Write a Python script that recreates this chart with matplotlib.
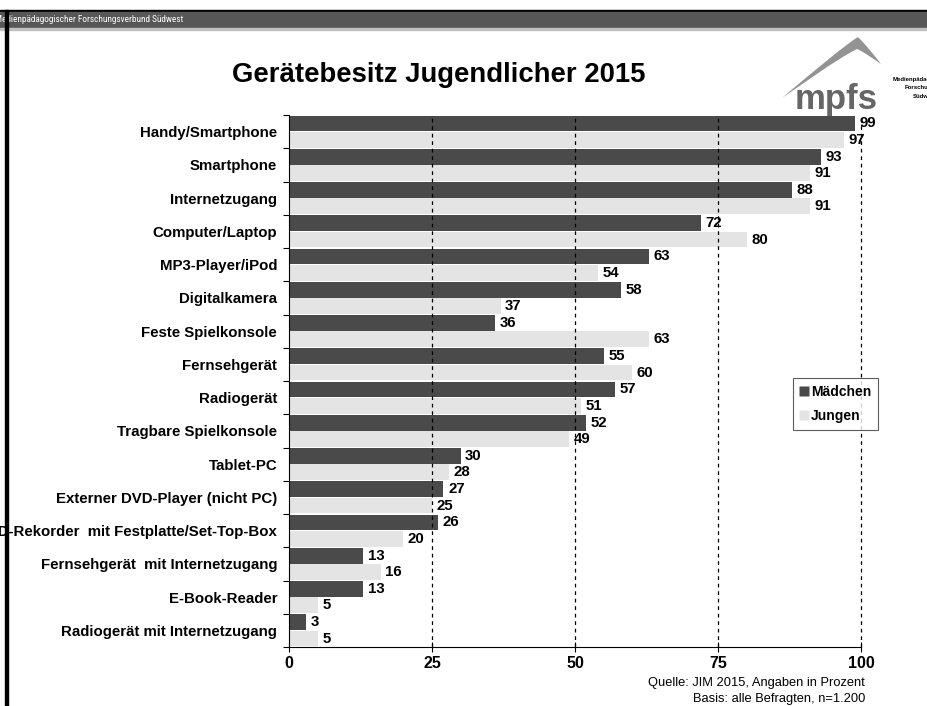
import matplotlib
matplotlib.use("Agg")
import matplotlib.pyplot as plt
import numpy as np
from matplotlib.patches import Rectangle, PathPatch
from matplotlib.path import Path
from matplotlib.lines import Line2D
from matplotlib import font_manager

plt.rcParams['font.family'] = ['Liberation Sans', 'DejaVu Sans']

categories = ["Handy/Smartphone", "Smartphone", "Internetzugang", "Computer/Laptop",
              "MP3-Player/iPod", "Digitalkamera", "Feste Spielkonsole", "Fernsehgerät",
              "Radiogerät", "Tragbare Spielkonsole", "Tablet-PC",
              "Externer DVD-Player (nicht PC)", "DVD-Rekorder  mit Festplatte/Set-Top-Box",
              "Fernsehgerät  mit Internetzugang", "E-Book-Reader",
              "Radiogerät mit Internetzugang"]
maedchen = [99, 93, 88, 72, 63, 58, 36, 55, 57, 52, 30, 27, 26, 13, 13, 3]
jungen = [97, 91, 91, 80, 54, 37, 63, 60, 51, 49, 28, 25, 20, 16, 5, 5]
xticks = [0, 25, 50, 75, 100]

W, H = 927, 706
fig = plt.figure(figsize=(W / 100, H / 100), dpi=100)

def fx(px):
    return px / W

def fy(py):
    return 1 - py / H

# header
fig.patches.append(Rectangle((0, fy(12)), 1, fy(10) - fy(12), transform=fig.transFigure,
                             color='black', zorder=0))
fig.patches.append(Rectangle((0, fy(28)), 1, fy(12) - fy(28), transform=fig.transFigure,
                             color='#575757', zorder=0))
fig.patches.append(Rectangle((0, fy(30)), 1, fy(28) - fy(30), transform=fig.transFigure,
                             color='#c0c0c0', zorder=0))

# condensed/narrow face for the header line, if available
names = {f.name for f in font_manager.fontManager.ttflist}
narrow = None
for cand in ['Liberation Sans Narrow', 'DejaVu Sans Condensed', 'Roboto Condensed',
             'Open Sans Condensed']:
    if cand in names:
        narrow = cand
        break
if narrow is None:
    for f in font_manager.fontManager.ttflist:
        if 'ondensed' in f.fname or 'Narrow' in f.fname:
            narrow = f.name
            break
if narrow is not None:
    hdr_kw = dict(family=[narrow, 'Liberation Sans'], fontsize=6.7, fontstretch='condensed')
    hdr_x = -5
else:
    hdr_kw = dict(family=['Liberation Sans'], fontsize=5.5)
    hdr_x = -4
fig.text(fx(hdr_x), fy(20), "Medienpädagogischer Forschungsverbund Südwest", color='white',
         va='center', ha='left', **hdr_kw)
# left black line
fig.patches.append(Rectangle((fx(5), 0), fx(3), fy(10), transform=fig.transFigure,
                             color='black', zorder=5))

# title
fig.text(fx(439), fy(75), "Gerätebesitz Jugendlicher 2015", fontsize=19.8,
         fontweight='bold', ha='center', va='center')

# logo arch
verts = [(fx(782), fy(98)),
         (fx(815), fy(70)), (fx(845), fy(45)), (fx(858), fy(37)),
         (fx(866), fy(45)), (fx(874), fy(55)), (fx(881), fy(64)),
         (fx(872), fy(58)), (fx(864), fy(52)), (fx(857), fy(49)),
         (fx(835), fy(60)), (fx(800), fy(86)), (fx(782), fy(98))]
codes = [Path.MOVETO] + [Path.CURVE4] * 12
fig.patches.append(PathPatch(Path(verts, codes), transform=fig.transFigure,
                             facecolor='#939393', edgecolor='none', zorder=1))
fig.text(fx(836), fy(99), "mpfs", fontsize=25, fontweight='bold', color='#666666',
         ha='center', va='center', zorder=2)
fig.text(fx(893), fy(80), "Medienpädagogischer", fontsize=4.3, fontweight='bold', ha='left', va='center')
fig.text(fx(905), fy(88), "Forschungsverbund", fontsize=4.3, fontweight='bold', ha='left', va='center')
fig.text(fx(913), fy(96), "Südwest", fontsize=4.3, fontweight='bold', ha='left', va='center')

# axes
ax = fig.add_axes([fx(289), fy(647), fx(861) - fx(289), fy(115) - fy(647)])
n = len(categories)
y = np.arange(n)
bh = 0.47
dark = '#4a4a4a'
light = '#e4e4e4'
ax.barh(y - 0.245, maedchen, height=bh, color=dark, zorder=2, label='Mädchen')
ax.barh(y + 0.245, jungen, height=bh, color=light, zorder=2, label='Jungen')
for i in range(n):
    ax.text(maedchen[i] + 0.8, y[i] - 0.245, str(maedchen[i]), fontsize=10.8,
            fontweight='bold', va='center', ha='left', zorder=4, clip_on=False)
    ax.text(jungen[i] + 0.8, y[i] + 0.245, str(jungen[i]), fontsize=10.8,
            fontweight='bold', va='center', ha='left', zorder=4, clip_on=False)

ax.set_xlim(0, 100)
ax.set_ylim(n - 0.5, -0.5)
for xv in xticks[1:]:
    ax.axvline(xv, color='black', linestyle=(0, (3, 3)), linewidth=0.9, zorder=3,
               clip_on=False)

ax.set_xticks(xticks)
ax.set_xticklabels([str(v) for v in xticks], fontsize=11.5, fontweight='bold')
ax.tick_params(axis='x', direction='inout', length=7, width=0.8, pad=3)
ax.set_yticks(np.arange(n + 1) - 0.5)
ax.set_yticklabels([])
ax.set_yticks(y, minor=True)
ax.set_yticklabels(categories, minor=True, fontsize=10.8, fontweight='bold')
ax.tick_params(axis='y', which='major', direction='out', length=4, width=0.8)
ax.tick_params(axis='y', which='minor', length=0, pad=8.5)
for s in ['top', 'right']:
    ax.spines[s].set_visible(False)
for s in ['left', 'bottom']:
    ax.spines[s].set_linewidth(0.8)

handles = [Line2D([], [], marker='s', color='none', markerfacecolor=dark, markeredgecolor='none', markersize=7),
           Line2D([], [], marker='s', color='none', markerfacecolor=light, markeredgecolor='none', markersize=7)]
leg = fig.legend(handles, ['Mädchen', 'Jungen'], loc='upper left',
                 bbox_to_anchor=(fx(786), fy(371)), frameon=True, fancybox=False,
                 prop={'weight': 'bold', 'size': 10}, handlelength=0.6,
                 handletextpad=0.2, borderpad=0.5, labelspacing=0.7)
leg.get_frame().set_edgecolor('#333333')
leg.get_frame().set_linewidth(0.8)

fig.text(fx(865), fy(683), "Quelle: JIM 2015, Angaben in Prozent", fontsize=9.3,
         ha='right', va='center')
fig.text(fx(865), fy(699), "Basis: alle Befragten, n=1.200", fontsize=9.3,
         ha='right', va='center')

fig.savefig("out.png", dpi=100)
